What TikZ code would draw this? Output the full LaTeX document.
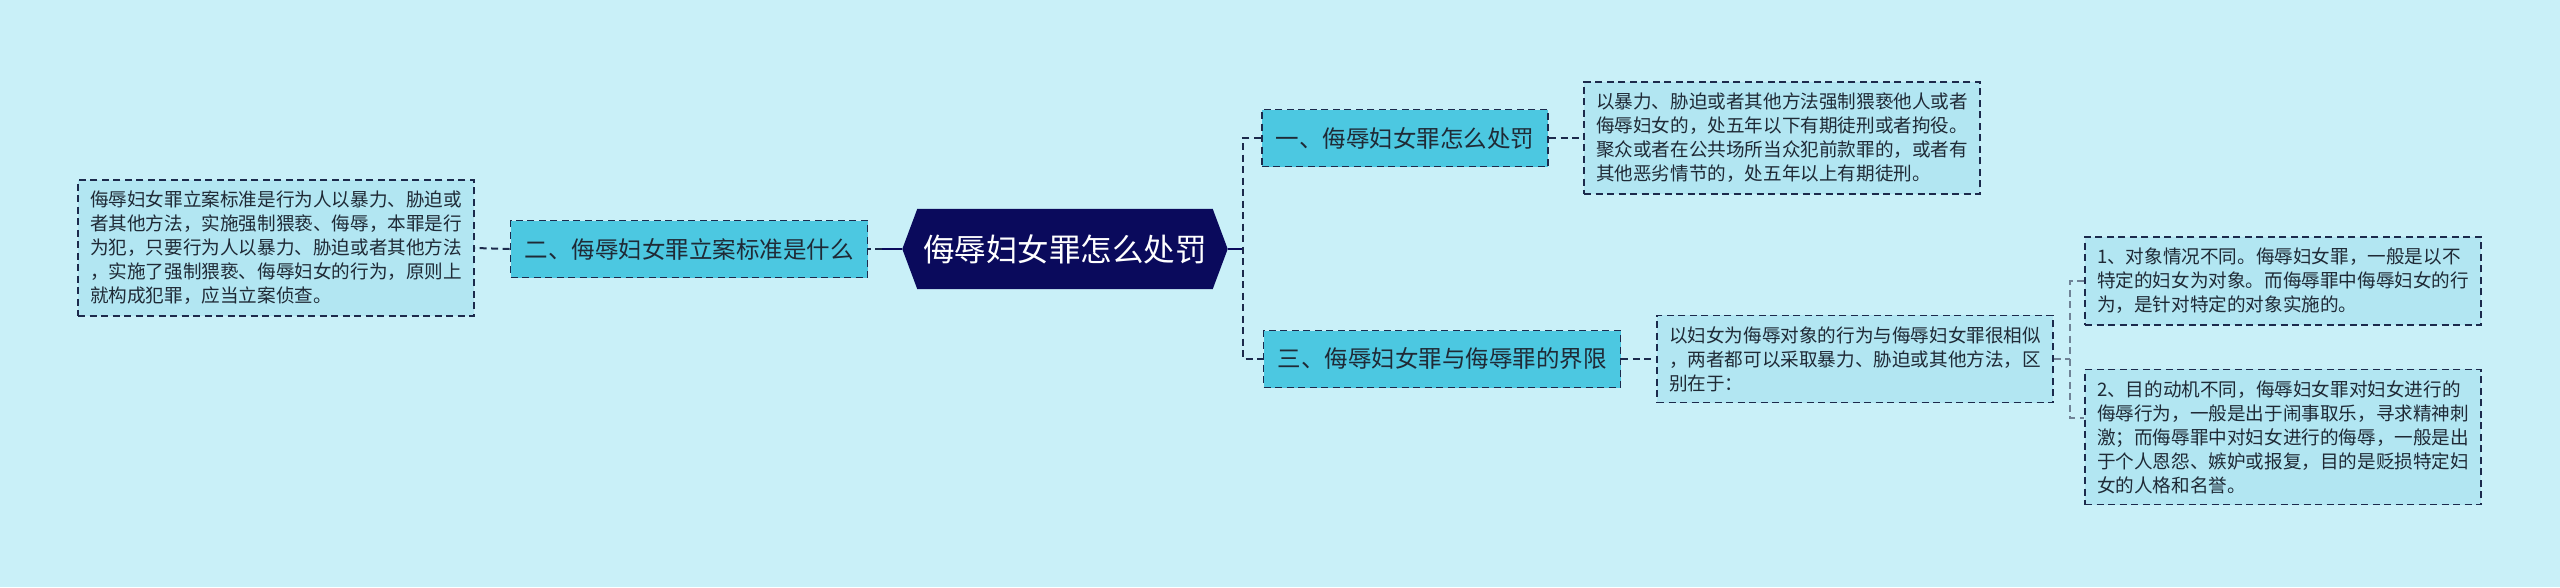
\documentclass[tikz,border=0pt]{standalone}
\usepackage{fontspec}
\newfontfamily\cjk{Noto Sans CJK SC}
\usepackage{xcolor}
\usetikzlibrary{positioning,backgrounds}
\definecolor{canvas}{HTML}{C9F0F8}
\definecolor{navy}{HTML}{0A0A5C}
\definecolor{branchfill}{HTML}{4CC8E1}
\definecolor{leaffill}{HTML}{B2E6F2}
\definecolor{edge}{HTML}{1C2A4C}
\definecolor{subedge}{HTML}{6F8296}
\definecolor{ink}{HTML}{1F2A36}
\tikzset{
  rootbox/.style  = {font=\cjk\fontsize{31.5}{36}\selectfont, text=white, minimum width=295pt, minimum height=80pt, inner sep=0pt},
  branch/.style   = {draw=edge, fill=branchfill, dash pattern=on 7pt off 4.5pt, line width=1.8pt, font=\cjk\fontsize{23.5}{28}\selectfont, text=ink, inner xsep=14pt, inner ysep=0pt, minimum height=57pt},
  leaf/.style     = {draw=edge, fill=leaffill, dash pattern=on 7pt off 4.5pt, line width=1.6pt, font=\cjk\fontsize{18.6}{24}\selectfont, text=ink, align=left, inner xsep=11pt, inner ysep=11pt, minimum width=396pt},
  link/.style     = {draw=navy, line width=2.2pt},
  dlink/.style    = {draw=edge, line width=2pt, dash pattern=on 7pt off 4.5pt},
  sublink/.style  = {draw=subedge, line width=1.6pt, dash pattern=on 7pt off 4.5pt},
}

\begin{document}
\begin{tikzpicture}[x=1pt,y=-1pt]
  \useasboundingbox (0,0) rectangle (2560,587);

  % centre
  \node[rootbox] (root) at (1065,249) {侮辱妇女罪怎么处罚};

  % branches
  \node[branch] (br1) at (1405,138) {一、侮辱妇女罪怎么处罚};
  \node[branch] (br2) at (689,249) {二、侮辱妇女罪立案标准是什么};
  \node[branch] (br3) at (1442,359) {三、侮辱妇女罪与侮辱罪的界限};

  % leaves
  \node[leaf] (lf1) at (1782,138) {以暴力、胁迫或者其他方法强制猥亵他人或者\\侮辱妇女的，处五年以下有期徒刑或者拘役。\\聚众或者在公共场所当众犯前款罪的，或者有\\其他恶劣情节的，处五年以上有期徒刑。};
  \node[leaf] (lf2) at (276,248) {侮辱妇女罪立案标准是行为人以暴力、胁迫或\\者其他方法，实施强制猥亵、侮辱，本罪是行\\为犯，只要行为人以暴力、胁迫或者其他方法\\，实施了强制猥亵、侮辱妇女的行为，原则上\\就构成犯罪，应当立案侦查。};
  \node[leaf] (lf3) at (1855,359) {以妇女为侮辱对象的行为与侮辱妇女罪很相似\\，两者都可以采取暴力、胁迫或其他方法，区\\别在于：};
  \node[leaf] (lf3a) at (2283,281) {1、对象情况不同。侮辱妇女罪，一般是以不\\特定的妇女为对象。而侮辱罪中侮辱妇女的行\\为，是针对特定的对象实施的。};
  \node[leaf] (lf3b) at (2283,437) {2、目的动机不同，侮辱妇女罪对妇女进行的\\侮辱行为，一般是出于闹事取乐，寻求精神刺\\激；而侮辱罪中对妇女进行的侮辱，一般是出\\于个人恩怨、嫉妒或报复，目的是贬损特定妇\\女的人格和名誉。};

  % junctions
  \coordinate (rootR) at ([xshift=15pt]root.east);
  \coordinate (rootL) at ([xshift=-15pt]root.west);
  \coordinate (rj) at (1243,249);
  \coordinate (lj) at (882,249);
  \coordinate (sj) at (2070,359);
  \coordinate (lf3bin) at ([yshift=19pt]lf3b.west);

  \draw[link] (rootR) -- (rj);
  \draw[dlink] (br1.west) -| (rj) |- (br3.west);
  \draw[link] (rootL) -- (lj);
  \draw[dlink] (lj) -- (br2.east);
  \draw[dlink] (br2.west) -- (lf2.east);
  \draw[dlink] (br1.east) -- (lf1.west);
  \draw[dlink] (br3.east) -- (lf3.west);
  \draw[sublink] (lf3.east) -- (sj);
  \draw[sublink] (lf3a.west) -| (sj) |- (lf3bin);

  \begin{scope}[on background layer]
    \fill[canvas] (0,0) rectangle (2560,587);
    \fill[navy] (root.north west) -- (root.north east) -- (rootR) -- (root.south east)
      -- (root.south west) -- (rootL) -- cycle;
  \end{scope}
\end{tikzpicture}
\end{document}
